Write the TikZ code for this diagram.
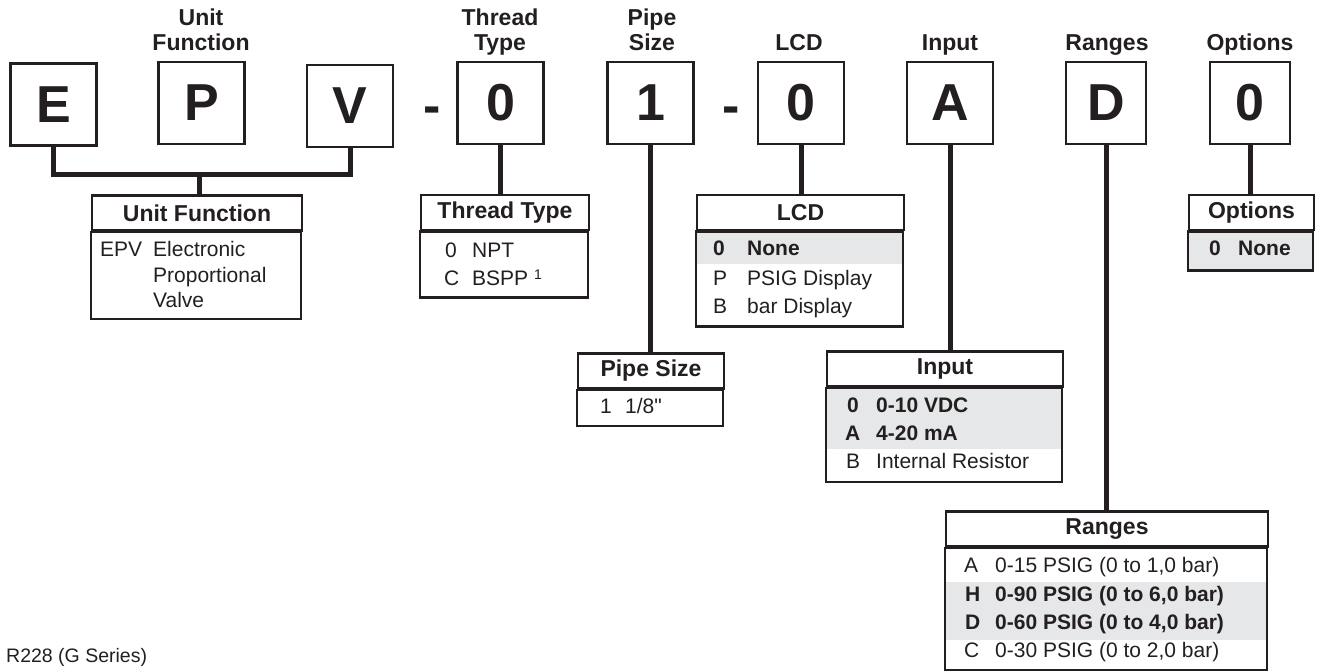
\documentclass[tikz,border=0pt]{standalone}
\usepackage{fontspec}
\setmainfont{Liberation Sans}[Ligatures=TeXOff]
\definecolor{ink}{HTML}{231F20}
\definecolor{rowgray}{HTML}{E6E7E8}
\begin{document}
\begin{tikzpicture}[x=1pt, y=-1pt,
  every node/.style={text=ink, inner sep=0pt},
  letterbox/.style={draw=ink, line width=2.5pt, minimum width=86pt, minimum height=82pt, font=\fontsize{52}{52}\selectfont\bfseries},
  sepmark/.style={anchor=base, font=\fontsize{52}{52}\selectfont\bfseries},
  heading/.style={align=center, anchor=base, font=\fontsize{23}{25}\selectfont\bfseries},
  thead/.style={draw=ink, line width=2.5pt, minimum height=35pt, font=\fontsize{23}{23}\selectfont\bfseries},
  tframe/.style={draw=ink, line width=2.5pt},
  key/.style={anchor=base west, font=\fontsize{21}{21}\selectfont},
  bkey/.style={anchor=base west, font=\fontsize{21}{21}\selectfont\bfseries},
  conn/.style={draw=ink, line width=5pt}]
\useasboundingbox (0,0) rectangle (1320,670);

\node[heading] (hUF) at (201,50) {Unit\\Function};
\node[heading] (hTT) at (500,50) {Thread\\Type};
\node[heading] (hPS) at (652,50) {Pipe\\Size};
\node[heading] (hL) at (799,50) {LCD};
\node[heading] (hI) at (950,50) {Input};
\node[heading] (hR) at (1107,50) {Ranges};
\node[heading] (hO) at (1250,50) {Options};

\node[letterbox] (E) at (53.5,104.5) {E};
\node[letterbox] (P) at (201.5,103) {P};
\node[letterbox] (V) at (350,106) {V};
\node[sepmark] (d1) at (432,123) {-};
\node[letterbox] (T) at (500.5,103) {0};
\node[letterbox] (S) at (650.5,103) {1};
\node[sepmark] (d2) at (731,123) {-};
\node[letterbox] (L) at (801,103) {0};
\node[letterbox] (I) at (950,103) {A};
\node[letterbox, minimum width=80pt] (R) at (1106,103) {D};
\node[letterbox, minimum width=80pt] (O) at (1250,103) {0};

\node[thead, minimum width=210pt] (tUF) at (197,213) {Unit Function};
\draw[tframe] (tUF.south west) rectangle ++(210,87);
\node[key] at (100,256) {EPV};
\node[key] at (153,256) {Electronic};
\node[key] at (153,282) {Proportional};
\node[key] at (153,307) {Valve};

\node[thead, minimum width=168pt] (tTT) at (505,212.5) {Thread Type};
\draw[tframe] (tTT.south west) rectangle ++(168,66);
\node[key] at (445,257) {0};
\node[key] at (472,257) {NPT};
\node[key] at (444,285) {C};
\node[key] at (472,285) {BSPP {\fontsize{14}{14}\selectfont\raisebox{6pt}{1}}};

\node[thead, minimum width=146pt] (tPS) at (651,371) {Pipe Size};
\draw[tframe] (tPS.south west) rectangle ++(146,36);
\node[key] at (600,413) {1};
\node[key] at (625,413) {1/8"};

\node[thead, minimum width=207pt] (tL) at (800.5,212.5) {LCD};
\fill[rowgray] (tL.south west) rectangle ++(207,33);
\draw[tframe] (tL.south west) rectangle ++(207,95);
\node[bkey] at (713,255) {0};
\node[bkey] at (747,255) {None};
\node[key] at (713,285) {P};
\node[key] at (747,285) {PSIG Display};
\node[key] at (713,313) {B};
\node[key] at (747,313) {bar Display};

\node[thead, minimum width=236pt] (tI) at (945,369) {Input};
\fill[rowgray] (tI.south west) rectangle ++(236,61);
\draw[tframe] (tI.south west) rectangle ++(236,94);
\node[bkey] at (847,412) {0};
\node[bkey] at (876,412) {0-10 VDC};
\node[bkey] at (845,440) {A};
\node[bkey] at (876,440) {4-20 mA};
\node[key] at (846,468) {B};
\node[key] at (876,468) {Internal Resistor};

\node[thead, minimum width=322pt] (tR) at (1107,529) {Ranges};
\fill[rowgray] ([yshift=-34pt]tR.south west) rectangle ++(322,58);
\draw[tframe] (tR.south west) rectangle ++(322,122);
\node[key] at (964,572) {A};
\node[key] at (995,572) {0-15 PSIG (0 to 1,0 bar)};
\node[bkey] at (965,601) {H};
\node[bkey] at (995,601) {0-90 PSIG (0 to 6,0 bar)};
\node[bkey] at (965,629) {D};
\node[bkey] at (995,629) {0-60 PSIG (0 to 4,0 bar)};
\node[key] at (964,657) {C};
\node[key] at (995,657) {0-30 PSIG (0 to 2,0 bar)};

\node[thead, minimum width=125pt] (tO) at (1251.5,212.5) {Options};
\fill[rowgray] (tO.south west) rectangle ++(125,39);
\draw[tframe] (tO.south west) rectangle ++(125,39);
\node[bkey] at (1209,255) {0};
\node[bkey] at (1238,255) {None};

\coordinate (jUF) at (199,174);
\draw[conn] (E.south) |- (jUF) -| (V.south);
\draw[conn] (jUF) -- (jUF |- tUF.north);
\draw[conn] (T.south) -- (T.south |- tTT.north);
\draw[conn] (S.south) -- (S.south |- tPS.north);
\draw[conn] (L.south) -- (L.south |- tL.north);
\draw[conn] (I.south) -- (I.south |- tI.north);
\draw[conn] (R.south) -- (R.south |- tR.north);
\draw[conn] (O.south) -- (O.south |- tO.north);

\node[key, font=\fontsize{19.5}{20}\selectfont] (ftr) at (6,662) {R228 (G Series)};
\end{tikzpicture}
\end{document}
